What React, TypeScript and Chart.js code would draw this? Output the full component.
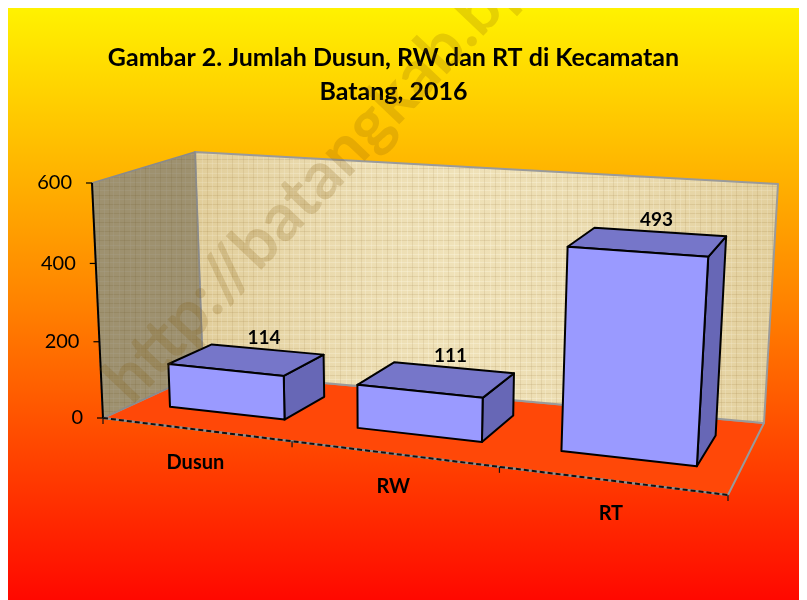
import React, { useEffect, useRef } from "react";
import { Chart, registerables } from "chart.js";

Chart.register(...registerables);

// ---------------- data ----------------
const categories = ["Dusun", "RW", "RT"];
const values = [114, 111, 493];
const yTickValues = [0, 200, 400, 600];
const yMax = 600;
const titleLines = ["Gambar 2. Jumlah Dusun, RW dan RT di Kecamatan", "Batang, 2016"];
const watermarkText = "http://batangkab.bps.go.id";

// ---------------- layout / 3D frame (canvas px) ----------------
const W = 799;
const H = 592;
type Pt = [number, number];
// corners of the front (axis) plane and of the back wall: BL, BR, TR, TL
const FRONT_QUAD: Pt[] = [[95, 410], [720, 487], [737, 218], [84, 175]];
const BACK_QUAD: Pt[] = [[195, 364], [756, 415], [770, 176], [187, 144]];
const BAR_DEPTH: [number, number] = [0.33, 0.77];
const FONT = "Lato, 'Open Sans', 'DejaVu Sans', sans-serif";

function squareToQuad(q: Pt[]) {
  const [x0, y0] = q[0], [x1, y1] = q[1], [x2, y2] = q[2], [x3, y3] = q[3];
  const dx1 = x1 - x2, dx2 = x3 - x2, dx3 = x0 - x1 + x2 - x3;
  const dy1 = y1 - y2, dy2 = y3 - y2, dy3 = y0 - y1 + y2 - y3;
  const det = dx1 * dy2 - dx2 * dy1;
  const g = (dx3 * dy2 - dx2 * dy3) / det;
  const h = (dx1 * dy3 - dx3 * dy1) / det;
  const a = x1 - x0 + g * x1, b = x3 - x0 + h * x3, c = x0;
  const d = y1 - y0 + g * y1, e = y3 - y0 + h * y3, f = y0;
  return (u: number, v: number): Pt => {
    const z = g * u + h * v + 1;
    return [(a * u + b * v + c) / z, (d * u + e * v + f) / z];
  };
}
const frontMap = squareToQuad(FRONT_QUAD);
const backMap = squareToQuad(BACK_QUAD);
function P(u: number, v: number, w: number): Pt {
  const f = frontMap(u, v);
  const b = backMap(u, v);
  return [f[0] + (b[0] - f[0]) * w, f[1] + (b[1] - f[1]) * w];
}

function poly(ctx: CanvasRenderingContext2D, pts: Pt[], fill: any, stroke?: string, lw = 1) {
  ctx.beginPath();
  ctx.moveTo(pts[0][0], pts[0][1]);
  for (let i = 1; i < pts.length; i++) ctx.lineTo(pts[i][0], pts[i][1]);
  ctx.closePath();
  if (fill) {
    ctx.fillStyle = fill;
    ctx.fill();
  }
  if (stroke) {
    ctx.strokeStyle = stroke;
    ctx.lineWidth = lw;
    ctx.lineJoin = "round";
    ctx.stroke();
  }
}

function makePapyrus(ctx: CanvasRenderingContext2D) {
  const c = document.createElement("canvas");
  c.width = 36;
  c.height = 36;
  const g = c.getContext("2d")!;
  g.fillStyle = "#EDDDB0";
  g.fillRect(0, 0, 36, 36);
  g.lineWidth = 1;
  const hs = [2, 7, 11, 16, 21, 25, 30, 34];
  const vs = [3, 8, 14, 19, 24, 29, 33];
  hs.forEach((y, i) => {
    g.strokeStyle = i % 2 ? "rgba(160,130,70,0.2)" : "rgba(255,250,230,0.35)";
    g.beginPath();
    g.moveTo(0, y + 0.5);
    g.lineTo(36, y + 0.5);
    g.stroke();
  });
  vs.forEach((x, i) => {
    g.strokeStyle = i % 2 ? "rgba(160,130,70,0.18)" : "rgba(255,250,230,0.3)";
    g.beginPath();
    g.moveTo(x + 0.5, 0);
    g.lineTo(x + 0.5, 36);
    g.stroke();
  });
  return ctx.createPattern(c, "repeat");
}

const threeD = {
  id: "threeD",
  beforeDraw(chart: any) {
    const ctx: CanvasRenderingContext2D = chart.ctx;
    ctx.save();
    // background
    const bg = ctx.createLinearGradient(0, 0, 0, H);
    bg.addColorStop(0, "rgb(255,242,0)");
    bg.addColorStop(0.5, "rgb(255,130,0)");
    bg.addColorStop(1, "rgb(255,8,0)");
    ctx.fillStyle = bg;
    ctx.fillRect(0, 0, W, H);

    // title
    ctx.fillStyle = "#000";
    ctx.font = `bold 25px ${FONT}`;
    ctx.textAlign = "center";
    ctx.textBaseline = "middle";
    titleLines.forEach((t, i) => ctx.fillText(t, 385.5, 50 + i * 34));

    const pat = makePapyrus(ctx);
    // floor
    poly(ctx, [P(0, 0, 0), P(1, 0, 0), P(1, 0, 1), P(0, 0, 1)], "rgb(255,72,8)", "#9a9a9a", 2);
    // back wall
    const back = [P(0, 0, 1), P(1, 0, 1), P(1, 1, 1), P(0, 1, 1)];
    poly(ctx, back, pat);
    const shade = ctx.createLinearGradient(P(0, 0.5, 1)[0], 0, P(1, 0.5, 1)[0], 0);
    shade.addColorStop(0, "rgba(190,160,90,0.25)");
    shade.addColorStop(0.45, "rgba(255,255,240,0.12)");
    shade.addColorStop(1, "rgba(190,160,90,0.22)");
    poly(ctx, back, shade, "#9a9a9a", 2);
    // side wall
    const side = [P(0, 0, 0), P(0, 0, 1), P(0, 1, 1), P(0, 1, 0)];
    poly(ctx, side, pat);
    poly(ctx, side, "rgba(80,70,45,0.5)", "#8a8a8a", 1.5);

    const area = chart.chartArea;
    const yScale = chart.scales.y;
    const xScale = chart.scales.x;
    // y axis
    ctx.strokeStyle = "#000";
    ctx.lineWidth = 2;
    ctx.beginPath();
    const a0 = P(0, 0, 0), a1 = P(0, 1, 0);
    ctx.moveTo(a0[0], a0[1]);
    ctx.lineTo(a1[0], a1[1]);
    ctx.stroke();
    ctx.font = `20px ${FONT}`;
    ctx.textAlign = "right";
    ctx.textBaseline = "middle";
    ctx.lineWidth = 1.2;
    yTickValues.forEach((tv) => {
      const v = (area.bottom - yScale.getPixelForValue(tv)) / area.height;
      const p = P(0, v, 0);
      ctx.beginPath();
      ctx.moveTo(p[0] - 6, p[1]);
      ctx.lineTo(p[0], p[1]);
      ctx.stroke();
      ctx.fillStyle = "#000";
      ctx.fillText(String(tv), p[0] - 20, p[1]);
    });

    // x axis (front floor edge), dashed
    const e0 = P(0, 0, 0), e1 = P(1, 0, 0);
    ctx.strokeStyle = "#8c8c8c";
    ctx.lineWidth = 2;
    ctx.beginPath();
    ctx.moveTo(e0[0], e0[1]);
    ctx.lineTo(e1[0], e1[1]);
    ctx.stroke();
    ctx.strokeStyle = "#111";
    ctx.setLineDash([5, 3]);
    ctx.beginPath();
    ctx.moveTo(e0[0], e0[1]);
    ctx.lineTo(e1[0], e1[1]);
    ctx.stroke();
    ctx.setLineDash([]);
    const half = (xScale.getPixelForValue(1) - xScale.getPixelForValue(0)) / 2;
    ctx.lineWidth = 1.2;
    for (let i = 0; i <= categories.length; i++) {
      const px = xScale.getPixelForValue(i) - half;
      const u = (px - area.left) / area.width;
      const p = P(u, 0, 0);
      ctx.beginPath();
      ctx.moveTo(p[0], p[1]);
      ctx.lineTo(p[0], p[1] + 6);
      ctx.stroke();
    }
    ctx.restore();
  },
  beforeDatasetsDraw(chart: any) {
    const ctx: CanvasRenderingContext2D = chart.ctx;
    const area = chart.chartArea;
    const meta = chart.getDatasetMeta(0);
    const [w0, w1] = BAR_DEPTH;
    ctx.save();
    meta.data.forEach((el: any) => {
      const { x, y, base, width } = el.getProps(["x", "y", "base", "width"], true);
      const u0 = (x - width / 2 - area.left) / area.width;
      const u1 = (x + width / 2 - area.left) / area.width;
      const vb = (area.bottom - base) / area.height;
      const vt = (area.bottom - y) / area.height;
      // right side
      poly(ctx, [P(u1, vb, w0), P(u1, vb, w1), P(u1, vt, w1), P(u1, vt, w0)], "#6767B6", "#000", 2);
      // top
      poly(ctx, [P(u0, vt, w0), P(u1, vt, w0), P(u1, vt, w1), P(u0, vt, w1)], "#7676C9", "#000", 2);
      // front
      poly(ctx, [P(u0, vb, w0), P(u1, vb, w0), P(u1, vt, w0), P(u0, vt, w0)], "#9A9AFF", "#000", 2);
    });
    ctx.restore();
    return false;
  },
  afterDraw(chart: any) {
    const ctx: CanvasRenderingContext2D = chart.ctx;
    const area = chart.chartArea;
    const meta = chart.getDatasetMeta(0);
    const [, w1] = BAR_DEPTH;
    ctx.save();
    ctx.fillStyle = "#000";
    ctx.textAlign = "center";
    ctx.textBaseline = "middle";
    // value labels, above the back edge of each bar's top face
    ctx.font = `bold 19px ${FONT}`;
    meta.data.forEach((el: any, i: number) => {
      const { x, y } = el.getProps(["x", "y"], true);
      const u = (x - area.left) / area.width;
      const v = (area.bottom - y) / area.height;
      const p = P(u, v, w1);
      ctx.fillText(String(values[i]), p[0] - 3, p[1] - 12);
    });
    // category labels
    ctx.font = `bold 20px ${FONT}`;
    const xScale = chart.scales.x;
    categories.forEach((c, i) => {
      const u = (xScale.getPixelForValue(i) - area.left) / area.width;
      const p = P(u, 0, 0);
      ctx.fillText(c, p[0], p[1] + 33);
    });
    // watermark
    ctx.translate(124, 398);
    ctx.rotate((-46.5 * Math.PI) / 180);
    ctx.font = `bold 66px ${FONT}`;
    ctx.textAlign = "left";
    ctx.textBaseline = "alphabetic";
    ctx.fillStyle = "rgba(130,90,10,0.2)";
    ctx.fillText(watermarkText, 0, 0);
    ctx.restore();
  },
};

export default function App() {
  const ref = useRef<HTMLCanvasElement | null>(null);
  useEffect(() => {
    if (!ref.current) return;
    const chart = new Chart(ref.current, {
      type: "bar",
      data: {
        labels: categories,
        datasets: [
          {
            data: values,
            backgroundColor: "#9A9AFF",
            categoryPercentage: 1,
            barPercentage: 0.62,
          },
        ],
      },
      options: {
        animation: false,
        responsive: false,
        devicePixelRatio: 1,
        layout: { padding: { left: 95, right: W - 720, top: 175, bottom: H - 410 } },
        scales: {
          x: { display: false },
          y: { display: false, min: 0, max: yMax, ticks: { stepSize: 200 } },
        },
        plugins: {
          legend: { display: false },
          tooltip: { enabled: false },
          title: { display: false },
        },
      } as any,
      plugins: [threeD as any],
    });
    return () => chart.destroy();
  }, []);
  return (
    <div
      style={{
        marginLeft: -2,
        marginTop: -2,
        borderTop: "2px solid #000",
        borderLeft: "2px solid #000",
        width: W,
        height: H,
      }}
    >
      <canvas ref={ref} width={W} height={H} style={{ display: "block", width: W, height: H }} />
    </div>
  );
}
